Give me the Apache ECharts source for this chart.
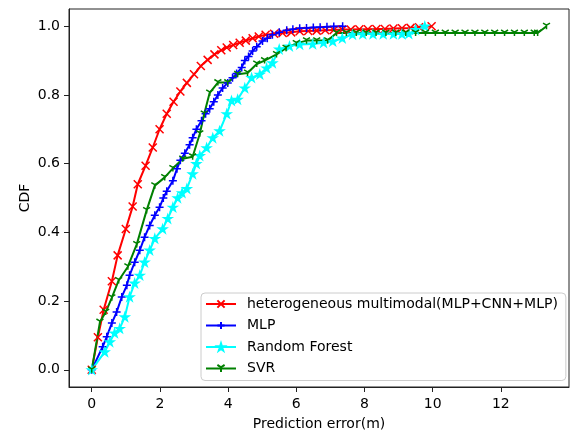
<!DOCTYPE html>
<html>
<head>
<meta charset="utf-8">
<script src="https://cdn.jsdelivr.net/npm/echarts@6/dist/echarts.min.js"></script>
<style>html,body{margin:0;padding:0;background:#fff}#c{width:572px;height:431px}</style>
</head>
<body>
<div id="c"></div>
<script>
const seriesNames = ['heterogeneous multimodal(MLP+CNN+MLP)', 'MLP', 'Random Forest', 'SVR'];
const xTicks = [0, 2, 4, 6, 8, 10, 12];
const yTicks = [0, 0.2, 0.4, 0.6, 0.8, 1.0];

const redData = [[0,0],[0.18,0.095],[0.35,0.175],[0.59,0.258],[0.76,0.333],[1.0,0.41],[1.2,0.475],[1.35,0.54],[1.58,0.594],[1.79,0.647],[1.99,0.70],[2.2,0.745],[2.4,0.78],[2.6,0.81],[2.79,0.835],[3.0,0.86],[3.2,0.884],[3.4,0.902],[3.6,0.918],[3.8,0.93],[3.96,0.938],[4.15,0.945],[4.34,0.952],[4.52,0.958],[4.72,0.965],[4.9,0.97],[5.1,0.975],[5.35,0.978],[5.6,0.98],[5.85,0.982],[6.1,0.985],[6.35,0.986],[6.6,0.987],[6.85,0.988],[7.1,0.989],[7.35,0.99],[7.6,0.99],[7.85,0.991],[8.1,0.991],[8.35,0.992],[8.6,0.992],[8.85,0.993],[9.1,0.994],[9.35,0.995],[9.6,0.997],[9.97,1.0]];

const blueData = [[0,0],[0.32,0.067],[0.44,0.096],[0.59,0.136],[0.73,0.168],[0.88,0.212],[1.03,0.246],[1.11,0.275],[1.26,0.313],[1.41,0.348],[1.55,0.386],[1.70,0.42],[1.85,0.45],[1.99,0.473],[2.1,0.5],[2.2,0.52],[2.38,0.55],[2.5,0.585],[2.6,0.61],[2.73,0.63],[2.87,0.655],[2.96,0.675],[3.07,0.7],[3.22,0.725],[3.34,0.745],[3.46,0.76],[3.58,0.78],[3.7,0.80],[3.84,0.82],[3.99,0.835],[4.13,0.85],[4.25,0.862],[4.4,0.88],[4.49,0.9],[4.6,0.912],[4.72,0.928],[4.84,0.94],[5.01,0.957],[5.15,0.965],[5.3,0.975],[5.5,0.982],[5.72,0.988],[5.9,0.991],[6.1,0.994],[6.3,0.995],[6.5,0.996],[6.7,0.997],[6.9,0.998],[7.1,0.999],[7.36,1.0]];

const cyanData = [[0,0],[0.38,0.052],[0.53,0.081],[0.67,0.107],[0.82,0.12],[0.97,0.154],[1.11,0.212],[1.26,0.252],[1.41,0.275],[1.55,0.313],[1.7,0.348],[1.85,0.382],[2.08,0.41],[2.23,0.44],[2.38,0.473],[2.52,0.50],[2.65,0.515],[2.79,0.527],[2.96,0.57],[3.07,0.6],[3.17,0.623],[3.37,0.646],[3.55,0.675],[3.75,0.695],[3.96,0.745],[4.1,0.783],[4.28,0.787],[4.49,0.82],[4.69,0.85],[4.93,0.86],[5.13,0.878],[5.3,0.893],[5.5,0.933],[5.8,0.942],[6.1,0.947],[6.48,0.948],[6.8,0.952],[7.07,0.956],[7.35,0.965],[7.65,0.976],[7.95,0.977],[8.25,0.977],[8.55,0.977],[8.85,0.977],[9.1,0.977],[9.3,0.978],[9.5,0.99],[9.77,1.0]];

const greenData = [[0,0],[0.24,0.139],[0.41,0.168],[0.59,0.21],[0.79,0.26],[1.06,0.30],[1.32,0.365],[1.61,0.464],[1.85,0.536],[2.14,0.56],[2.38,0.586],[2.67,0.614],[2.96,0.62],[3.17,0.687],[3.3,0.745],[3.46,0.806],[3.7,0.836],[3.99,0.836],[4.28,0.86],[4.57,0.864],[4.84,0.89],[5.07,0.9],[5.42,0.918],[5.7,0.936],[6.0,0.95],[6.3,0.958],[6.6,0.958],[6.92,0.958],[7.18,0.98],[7.47,0.98],[7.76,0.98],[8.05,0.98],[8.34,0.98],[8.63,0.98],[8.92,0.98],[9.21,0.98],[9.5,0.98],[9.79,0.98],[10.08,0.98],[10.37,0.98],[10.66,0.98],[10.95,0.98],[11.24,0.98],[11.53,0.98],[11.82,0.98],[12.11,0.98],[12.4,0.98],[12.69,0.98],[12.98,0.98],[13.08,0.98],[13.34,1.0]];

const FONT = 'DejaVu Sans';
const colors = ['#ff0000', '#0000ff', '#00ffff', '#008000'];
const symbols = [
  'path://M0,0L10,10M0,10L10,0',
  'path://M5,0L5,10M0,5L10,5',
  'path://M5,0L6.123,3.455L9.755,3.455L6.817,5.59L7.939,9.045L5,6.91L2.061,9.045L3.183,5.59L0.245,3.455L3.877,3.455Z',
  'path://M5,5L5,10M5,5L0.67,2.5M5,5L9.33,2.5'
];
const sizes = [8, 8, 8, 7];
const datasets = [redData, blueData, cyanData, greenData];

const chart = echarts.init(document.getElementById('c'), null, {renderer: 'canvas'});
const axisCommon = {
  axisLine: {show: true, onZero: false, lineStyle: {color: '#222', width: 1}},
  splitLine: {show: false},
  nameMoveOverlap: false,
  nameTextStyle: {fontSize: 14, color: '#000', fontFamily: FONT}
};
chart.setOption({
  animation: false,
  backgroundColor: '#fff',
  grid: {left: 69, right: 3, top: 9, bottom: 44, show: true, borderColor: '#222', borderWidth: 1,
    backgroundColor: 'transparent', outerBoundsMode: 'none', containLabel: false},
  xAxis: Object.assign({
    type: 'value', min: -0.667, max: 14.0,
    name: 'Prediction error(m)', nameLocation: 'middle', nameGap: 30,
    axisTick: {show: true, customValues: xTicks, length: 5, lineStyle: {color: '#222'}},
    axisLabel: {customValues: xTicks, margin: 10, fontSize: 14, color: '#000', fontFamily: FONT}
  }, axisCommon),
  yAxis: Object.assign({
    type: 'value', min: -0.05, max: 1.05,
    name: 'CDF', nameLocation: 'middle', nameGap: 37, nameRotate: 90,
    axisTick: {show: true, customValues: yTicks, length: 5, lineStyle: {color: '#222'}},
    axisLabel: {customValues: yTicks, margin: 9, fontSize: 14, color: '#000', fontFamily: FONT,
      formatter: v => v.toFixed(1)}
  }, axisCommon),
  legend: {
    orient: 'vertical', left: 201, top: 293,
    padding: [4, 8, 5, 4], itemGap: 7.5, itemWidth: 30, itemHeight: 9,
    backgroundColor: 'rgba(255,255,255,0.8)', borderColor: '#cccccc', borderWidth: 1, borderRadius: 4,
    textStyle: {fontSize: 14, color: '#000', fontFamily: FONT, padding: [0, 0, 0, 6]},
    data: seriesNames
  },
  series: seriesNames.map((n, i) => ({
    name: n, type: 'line', data: datasets[i],
    symbol: symbols[i], symbolSize: sizes[i], symbolKeepAspect: true, showAllSymbol: true,
    lineStyle: {color: colors[i], width: 2},
    itemStyle: {color: colors[i], borderColor: colors[i], borderWidth: 1.5},
    emphasis: {disabled: true}
  }))
});
</script>
</body>
</html>
